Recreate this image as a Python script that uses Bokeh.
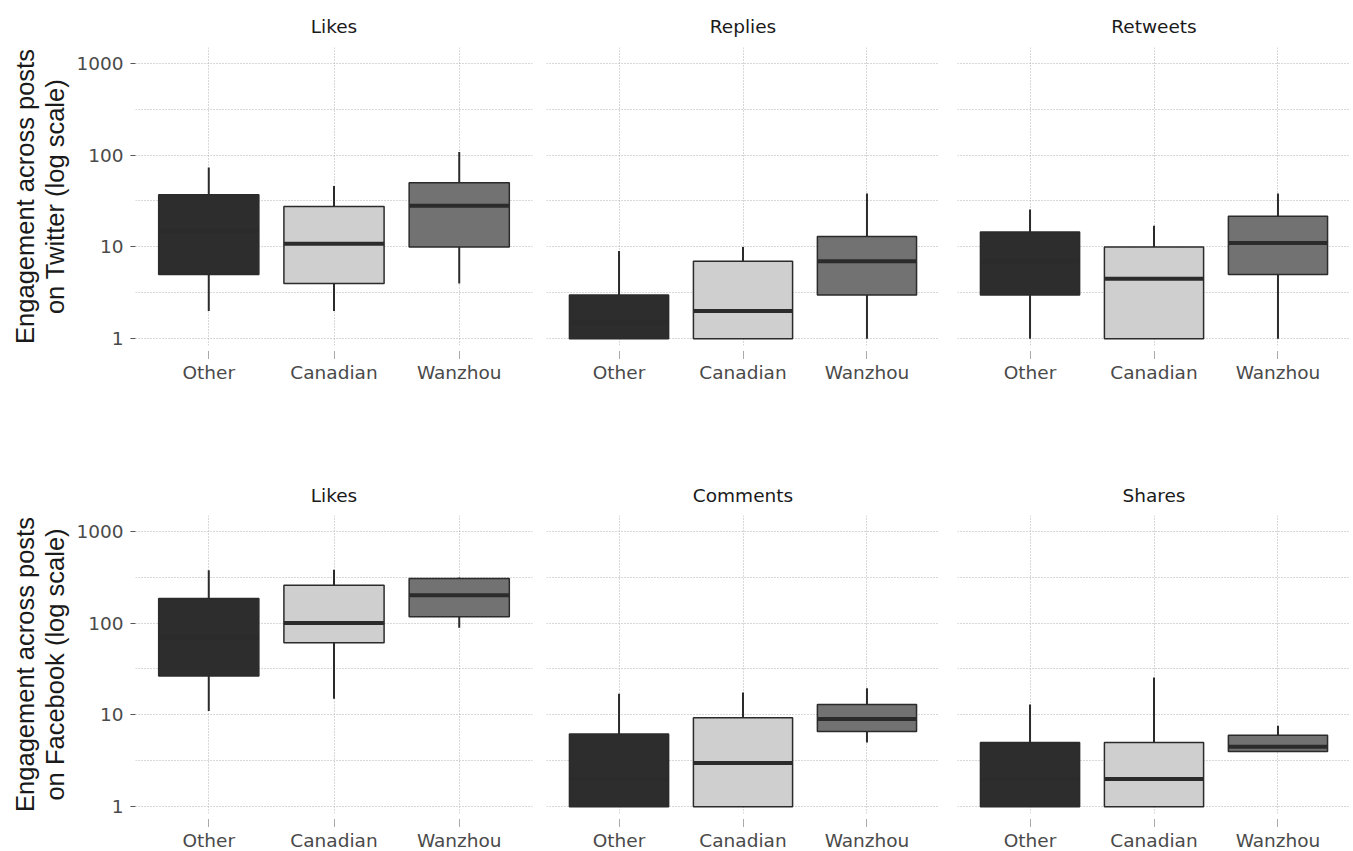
from bokeh.plotting import figure
from bokeh.models import FactorRange, Range1d, FixedTicker, PrintfTickFormatter, ColumnDataSource
from bokeh.layouts import column, row
from bokeh.transform import dodge
from bokeh.embed import file_html
from bokeh.resources import INLINE

categories = ["Other", "Canadian", "Wanzhou"]
panel_titles = ["Likes", "Replies", "Retweets", "Likes", "Comments", "Shares"]
row_labels = ["Engagement across posts\non Twitter (log scale)",
              "Engagement across posts\non Facebook (log scale)"]

# per panel (Twitter: Likes, Replies, Retweets; Facebook: Likes, Comments, Shares)
# values for [Other, Canadian, Wanzhou]
whisker_low = [[2, 2, 4], [1, 1, 1], [1, 1, 1], [11, 15, 89], [1, 1, 5], [1, 1, 4]]
quartile_1 = [[5, 4, 10], [1, 1, 3], [3, 1, 5], [26.5, 61, 117], [1, 1, 6.6], [1, 1, 4]]
medians = [[15, 10.8, 28], [1.5, 2, 7], [7, 4.5, 11], [70, 100, 200], [2, 3, 9], [2, 2, 4.5]]
quartile_3 = [[37, 27.5, 50], [3, 7, 13], [14.5, 10, 21.5], [185, 258, 305], [6.2, 9.3, 13], [5, 5, 6]]
whisker_high = [[73, 46, 108], [9, 10, 38], [25.5, 17, 38], [375, 380, 313], [17, 17.5, 19.5], [13, 25.5, 7.6]]

y_ticks = [1, 10, 100, 1000]
y_grid_ticks = [1, 3.1623, 10, 31.623, 100, 316.23, 1000]

box_colors = ["#2d2d2d", "#cfcfcf", "#727272"]
line_color = "#2b2b2b"
grid_color = "#b0b0b0"
tick_label_color = "#4a4a4a"

frame_widths = [397, 393, 393]
borders_lr = [(135, 7), (7, 9), (9, 3)]
row_tops = [47, 47]
row_bottoms = [123, 38]
title_standoffs = [21, 19]
FRAME_H = 298
TICK_FONT = "DejaVu Sans"


def make_panel(idx):
    r, c = divmod(idx, 3)
    bl, br = borders_lr[c]
    p = figure(
        x_range=FactorRange(factors=categories, range_padding=0.0567),
        y_range=Range1d(0.845, 1479),
        y_axis_type="log",
        frame_width=frame_widths[c], frame_height=FRAME_H,
        min_border_left=bl, min_border_right=br,
        min_border_top=row_tops[r], min_border_bottom=row_bottoms[r],
        title=panel_titles[idx],
        output_backend="svg", toolbar_location=None,
    )
    p.background_fill_color = "white"
    p.border_fill_color = "white"
    p.outline_line_color = None

    src = ColumnDataSource(dict(
        cat=categories,
        lo=whisker_low[idx], q1=quartile_1[idx], med=medians[idx],
        q3=quartile_3[idx], hi=whisker_high[idx], color=box_colors,
    ))
    p.segment(x0="cat", y0="lo", x1="cat", y1="q1", line_color=line_color, line_width=2, source=src)
    p.segment(x0="cat", y0="q3", x1="cat", y1="hi", line_color=line_color, line_width=2, source=src)
    p.vbar(x="cat", width=0.8, bottom="q1", top="q3", fill_color="color",
           line_color=line_color, line_width=1.5, source=src)
    p.segment(x0=dodge("cat", -0.4, range=p.x_range), y0="med",
              x1=dodge("cat", 0.4, range=p.x_range), y1="med",
              line_color=line_color, line_width=4, source=src)

    # grids
    p.xgrid.grid_line_color = grid_color
    p.xgrid.grid_line_dash = "1 2"
    p.xgrid.grid_line_width = 1
    p.ygrid.ticker = FixedTicker(ticks=y_grid_ticks, minor_ticks=[])
    p.ygrid.grid_line_color = grid_color
    p.ygrid.grid_line_dash = "1 2"
    p.ygrid.grid_line_width = 1

    # title
    p.title.text_font = TICK_FONT
    p.title.text_font_size = "18.5px"
    p.title.text_font_style = "normal"
    p.title.text_color = "#1a1a1a"
    p.title.align = "center"
    p.title.standoff = title_standoffs[r]

    # x axis
    xa = p.xaxis[0]
    xa.axis_line_color = None
    xa.major_tick_in = -5
    xa.major_tick_out = 13
    xa.major_tick_line_color = "#555555"
    xa.major_tick_line_dash = "1 1"
    xa.major_label_text_font = TICK_FONT
    xa.major_label_text_font_size = "18.5px"
    xa.major_label_text_color = tick_label_color
    xa.major_label_standoff = 3

    # y axis
    ya = p.yaxis[0]
    if c == 0:
        ya.ticker = FixedTicker(ticks=y_ticks, minor_ticks=[])
        ya.formatter = PrintfTickFormatter(format="%d")
        ya.axis_line_color = None
        ya.major_tick_in = 0
        ya.major_tick_out = 5
        ya.major_tick_line_color = "#555555"
        ya.minor_tick_line_color = None
        ya.major_label_text_font = TICK_FONT
        ya.major_label_text_font_size = "18.5px"
        ya.major_label_text_color = tick_label_color
        ya.major_label_standoff = 7
        ya.axis_label = row_labels[r]
        ya.axis_label_text_font = "Liberation Sans"
        ya.axis_label_text_font_size = "25.5px"
        ya.axis_label_text_font_style = "normal"
        ya.axis_label_text_color = "#1a1a1a"
        ya.axis_label_text_line_height = 1.1
        ya.axis_label_standoff = 4
    else:
        ya.visible = False
    return p


panels = [make_panel(i) for i in range(6)]
layout = column(row(*panels[:3]), row(*panels[3:]))

open("out.html", "w").write(file_html(layout, INLINE))
